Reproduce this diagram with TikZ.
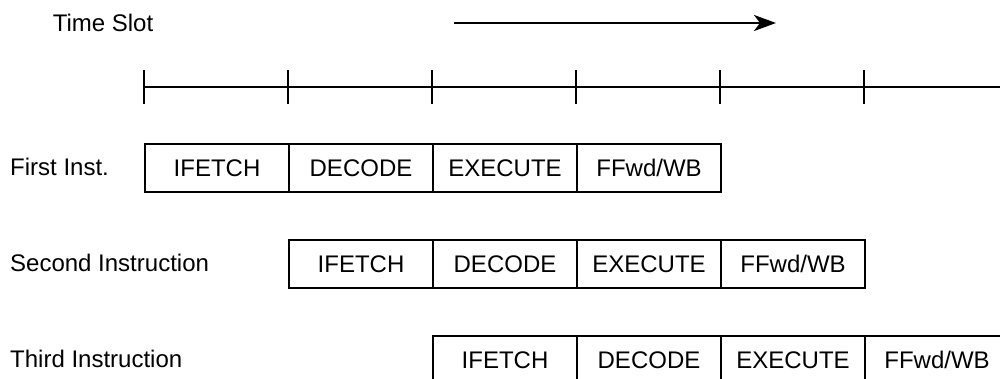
\documentclass[tikz,border=0pt]{standalone}
\usepackage{fontspec}
\setmainfont{Liberation Sans}
\usetikzlibrary{arrows.meta}
\begin{document}
\begin{tikzpicture}[x=1pt,y=-1pt,
  every node/.style={font=\fontsize{24}{28}\selectfont, inner sep=0pt},
  cell/.style={draw, line width=2pt, minimum width=144pt, minimum height=48pt, text height=17pt, text depth=0pt, anchor=north west},
  lbl/.style={anchor=west, text height=17pt, text depth=0pt},
  axis/.style={line width=2pt},
  tick/.style={line width=2pt}]
\useasboundingbox (0,0) rectangle (1000,379);
\clip (0,0) rectangle (1000,379);
% title and arrow
\node[anchor=center, text height=17pt, text depth=0pt] (title) at (103,23) {Time Slot};
\coordinate (arrS) at (454,23);
\coordinate (arrE) at (776,23);
\draw[line width=2.4pt, -{Stealth[length=22pt,width=16pt,inset=6pt]}] (arrS) -- (arrE);
% timeline
\coordinate (t0) at (144,87);
\coordinate (tend) at (1000,87);
\draw[axis] (t0) -- (tend);
\foreach \i in {0,...,5}{
  \coordinate (tk\i) at (144+144*\i,70);
  \coordinate (tb\i) at (144+144*\i,104);
  \draw[tick] (tk\i) -- (tb\i);
}
% rows
\node[lbl] (l1) at (10,167) {First Inst.};
\node[lbl] (l2) at (10,263) {Second Instruction};
\node[lbl] (l3) at (10,359) {Third Instruction};
\foreach \r/\x/\y in {1/144/143, 2/288/239, 3/432/335}{
  \node[cell] (r\r a) at (\x,\y) {IFETCH};
  \node[cell] (r\r b) at (\x+144,\y) {DECODE};
  \node[cell] (r\r c) at (\x+288,\y) {EXECUTE};
  \node[cell] (r\r d) at (\x+432,\y) {FFwd/WB};
}
\end{tikzpicture}
\end{document}
